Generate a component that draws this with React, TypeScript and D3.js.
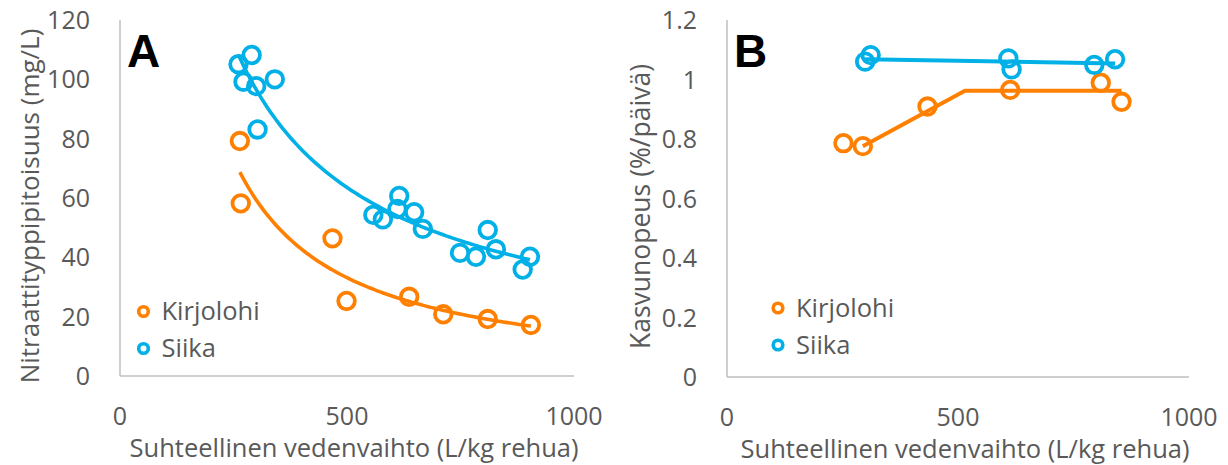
import React from "react";
import * as d3 from "d3";

// Panel A: nitrate concentration (mg/L) vs relative water exchange (L/kg feed)
const kirjolohiA_x = [264, 266, 468, 499, 637, 712, 810, 905];
const kirjolohiA_y = [79.2, 58.2, 46.4, 25.3, 26.7, 20.8, 19.2, 17.2];
const siikaA_x = [261, 290, 272, 300, 303, 341, 558, 579, 615, 611, 648, 667, 749, 784, 810, 828, 903, 887];
const siikaA_y = [105.1, 108.2, 99.2, 97.7, 83.1, 100, 54.3, 52.8, 60.7, 56.3, 55.2, 49.6, 41.5, 40.2, 49.2, 42.7, 40.2, 35.9];

// Panel B: growth rate (%/day)
const kirjolohiB_x = [252, 294, 434, 613, 809, 854];
const kirjolohiB_y = [0.786, 0.776, 0.909, 0.965, 0.989, 0.925];
const siikaB_x = [299, 311, 609, 616, 795, 840];
const siikaB_y = [1.06, 1.082, 1.071, 1.034, 1.049, 1.068];
// broken-line regression for Kirjolohi (vertices)
const brokenB_x = [294, 515, 854];
const brokenB_y = [0.776, 0.962, 0.962];

const xTicks = [0, 500, 1000];
const yTicksA = [0, 20, 40, 60, 80, 100, 120];
const yTicksB = [0, 0.2, 0.4, 0.6, 0.8, 1, 1.2];

const seriesNames = ["Kirjolohi", "Siika"];
const ORANGE = "#FF8000";
const BLUE = "#00B0E6";
const FONT = "'Open Sans', 'Noto Sans', sans-serif";
const TXT = "#595959";
const AX = "#BFBFBF";

function powerFit(xs: number[], ys: number[]) {
  const lx = xs.map(Math.log), ly = ys.map(Math.log);
  const mx = d3.mean(lx)!, my = d3.mean(ly)!;
  let sxy = 0, sxx = 0;
  lx.forEach((v, i) => { sxy += (v - mx) * (ly[i] - my); sxx += (v - mx) ** 2; });
  const b = sxy / sxx;
  const a = Math.exp(my - b * mx);
  return (x: number) => a * Math.pow(x, b);
}
function linFit(xs: number[], ys: number[]) {
  const mx = d3.mean(xs)!, my = d3.mean(ys)!;
  let sxy = 0, sxx = 0;
  xs.forEach((v, i) => { sxy += (v - mx) * (ys[i] - my); sxx += (v - mx) ** 2; });
  const b = sxy / sxx;
  return (x: number) => my + b * (x - mx);
}

type PanelProps = {
  x0: number; x1: number; yTop: number; yBot: number;
  yMax: number; yTicks: number[]; yFmt: (v: number) => string;
  yTitle: string; yTitleX: number; yTitleSize: number; letter: string;
  legendX: number; legendY: number;
  children: (x: d3.ScaleLinear<number, number>, y: d3.ScaleLinear<number, number>) => React.ReactNode;
};

function Panel(p: PanelProps) {
  const x = d3.scaleLinear().domain([0, 1000]).range([p.x0, p.x1]);
  const y = d3.scaleLinear().domain([0, p.yMax]).range([p.yBot, p.yTop]);
  return (
    <g>
      <line x1={p.x0} x2={p.x0} y1={p.yTop} y2={p.yBot} stroke={AX} strokeWidth={1.5} />
      <line x1={p.x0} x2={p.x1} y1={p.yBot} y2={p.yBot} stroke={AX} strokeWidth={1.5} />
      {p.yTicks.map((t) => (
        <text key={t} x={p.x0 - 30} y={y(t)} dy="0.36em" textAnchor="end" fontSize={25} fill={TXT} fontFamily={FONT}>
          {p.yFmt(t)}
        </text>
      ))}
      {xTicks.map((t) => (
        <text key={t} x={x(t)} y={p.yBot + 49} textAnchor="middle" fontSize={25} fill={TXT} fontFamily={FONT}>
          {t}
        </text>
      ))}
      <text x={(p.x0 + p.x1) / 2 + 7} y={p.yBot + 81} textAnchor="middle" fontSize={25.5} fill={TXT} fontFamily={FONT}>
        Suhteellinen vedenvaihto (L/kg rehua)
      </text>
      <text transform={`translate(${p.yTitleX},${(p.yTop + p.yBot) / 2 + 8}) rotate(-90)`} textAnchor="middle" dominantBaseline="central" fontSize={p.yTitleSize} fill={TXT} fontFamily={FONT}>
        {p.yTitle}
      </text>
      <text x={p.x0 + 7} y={p.yTop + 47} fontSize={46} fontWeight={900} fill="#000" fontFamily="'Liberation Sans', Arial, sans-serif">
        {p.letter}
      </text>
      {p.children(x, y)}
      {seriesNames.map((n, i) => (
        <g key={n}>
          <circle cx={p.legendX} cy={p.legendY + i * 37} r={4.8} fill="none" stroke={i === 0 ? ORANGE : BLUE} strokeWidth={3.6} />
          <text x={p.legendX + 18} y={p.legendY + i * 37} dy="0.35em" fontSize={25.5} fill={TXT} fontFamily={FONT}>
            {n}
          </text>
        </g>
      ))}
    </g>
  );
}

function Markers({ xs, ys, x, y, color }: any) {
  return (
    <g>
      {xs.map((v: number, i: number) => (
        <circle key={i} cx={x(v)} cy={y(ys[i])} r={8.3} fill="none" stroke={color} strokeWidth={3.8} />
      ))}
    </g>
  );
}

export default function App() {
  const fitK = powerFit(kirjolohiA_x, kirjolohiA_y);
  const fitS = powerFit(siikaA_x, siikaA_y);
  const linS = linFit(siikaB_x, siikaB_y);
  return (
    <svg width={1228} height={465} style={{ position: "absolute", left: 0, top: 0, background: "#fff" }}>
      <Panel x0={120} x1={574} yTop={20} yBot={376} yMax={120} yTicks={yTicksA} yFmt={(v) => String(v)}
        yTitle="Nitraattityppipitoisuus (mg/L)" yTitleX={29} yTitleSize={26} letter="A" legendX={143.5} legendY={311.5}>
        {(x, y) => {
          const line = d3.line<number>().x((d) => x(d)).curve(d3.curveLinear);
          const domK = d3.extent(kirjolohiA_x) as [number, number];
          const domS = d3.extent(siikaA_x) as [number, number];
          const sampK = d3.range(domK[0], domK[1] + 0.001, (domK[1] - domK[0]) / 100);
          const sampS = d3.range(domS[0], domS[1] + 0.001, (domS[1] - domS[0]) / 100);
          return (
            <g>
              <Markers xs={kirjolohiA_x} ys={kirjolohiA_y} x={x} y={y} color={ORANGE} />
              <Markers xs={siikaA_x} ys={siikaA_y} x={x} y={y} color={BLUE} />
              <path d={line.y((d) => y(fitK(d)))(sampK)!} fill="none" stroke={ORANGE} strokeWidth={3.6} />
              <path d={line.y((d) => y(fitS(d)))(sampS)!} fill="none" stroke={BLUE} strokeWidth={3.6} />
            </g>
          );
        }}
      </Panel>
      <Panel x0={727} x1={1189} yTop={20} yBot={377} yMax={1.2} yTicks={yTicksB} yFmt={(v) => String(+v.toFixed(1))}
        yTitle="Kasvunopeus (%/päivä)" yTitleX={640} yTitleSize={26.5} letter="B" legendX={778} legendY={308}>
        {(x, y) => {
          const domS = d3.extent(siikaB_x) as [number, number];
          const l = d3.line<[number, number]>().x((d) => x(d[0])).y((d) => y(d[1]));
          return (
            <g>
              <path d={l(brokenB_x.map((v, i) => [v, brokenB_y[i]] as [number, number]))!} fill="none" stroke={ORANGE} strokeWidth={4} strokeLinejoin="round" />
              <path d={l(domS.map((v) => [v, linS(v)] as [number, number]))!} fill="none" stroke={BLUE} strokeWidth={4} />
              <Markers xs={kirjolohiB_x} ys={kirjolohiB_y} x={x} y={y} color={ORANGE} />
              <Markers xs={siikaB_x} ys={siikaB_y} x={x} y={y} color={BLUE} />
            </g>
          );
        }}
      </Panel>
    </svg>
  );
}
